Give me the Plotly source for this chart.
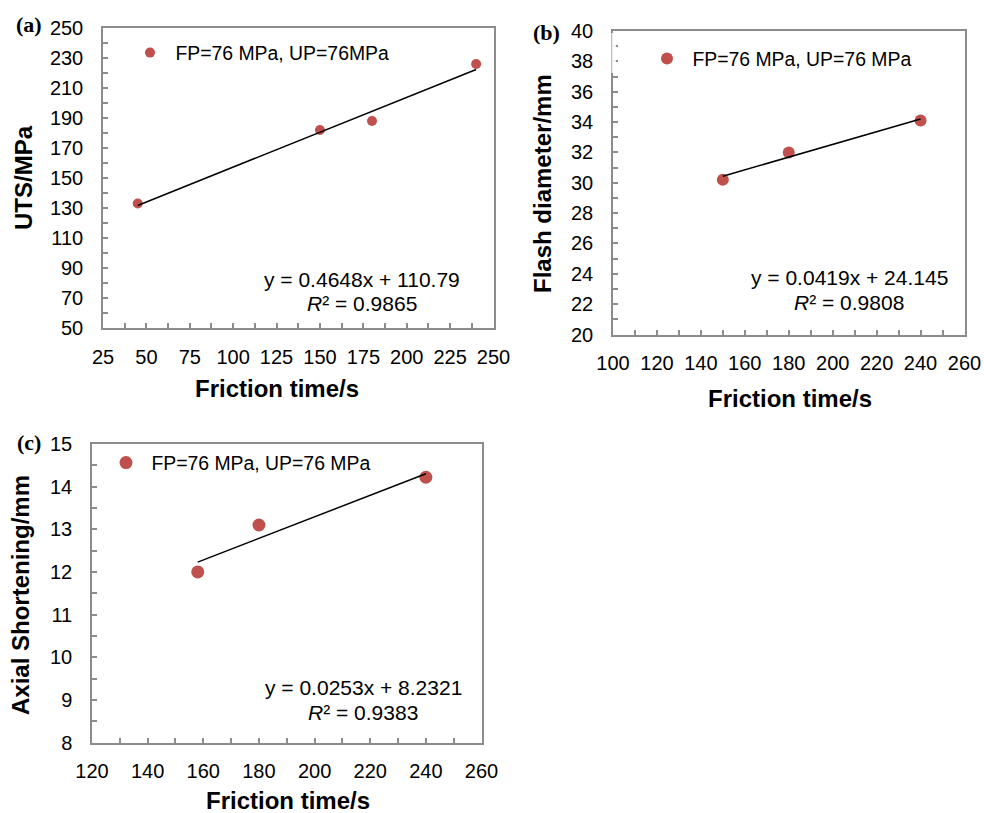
import numpy as np
import plotly.graph_objects as go

W, H = 984, 813

# ---- data ----
a_time = [45, 150, 180, 240]
a_uts = [133, 182, 188, 226]
a_slope, a_icpt = 0.4648, 110.79
a_eq = "y = 0.4648x + 110.79"
a_r2 = "<i>R</i>² = 0.9865"

b_time = [150, 180, 240]
b_flash = [30.2, 32.0, 34.1]
b_slope, b_icpt = 0.0419, 24.145
b_eq = "y = 0.0419x + 24.145"
b_r2 = "<i>R</i>² = 0.9808"

c_time = [158, 180, 240]
c_short = [12.0, 13.1, 14.22]
c_slope, c_icpt = 0.0253, 8.2321
c_eq = "y = 0.0253x + 8.2321"
c_r2 = "<i>R</i>² = 0.9383"

legend_a = "\u00a0FP=76 MPa, UP=76MPa"
legend_bc = "\u00a0FP=76 MPa, UP=76 MPa"
xlabel = "Friction time/s"
ylabels = ["UTS/MPa", "Flash diameter/mm", "Axial Shortening/mm"]

RED = "#C0504D"
AXC = "#8c8c8c"
FONT = "Liberation Sans, Arial, sans-serif"

def px(x):
    return x / W

def py(y):
    return 1 - y / H

fig = go.Figure()

def add_panel(idx, xs, ys, slope, icpt, msize, legname):
    sfx = "" if idx == 1 else str(idx)
    leg = "legend" if idx == 1 else "legend" + str(idx)
    fig.add_trace(go.Scatter(x=xs, y=ys, mode="markers", name=legname,
                             marker=dict(color=RED, size=msize),
                             xaxis="x" + sfx, yaxis="y" + sfx, legend=leg,
                             showlegend=True))
    xl = np.array([min(xs), max(xs)], dtype=float)
    fig.add_trace(go.Scatter(x=xl, y=slope * xl + icpt, mode="lines",
                             line=dict(color="black", width=1.5),
                             xaxis="x" + sfx, yaxis="y" + sfx, showlegend=False,
                             hoverinfo="skip"))

add_panel(1, a_time, a_uts, a_slope, a_icpt, 10, legend_a)
add_panel(2, b_time, b_flash, b_slope, b_icpt, 12, legend_bc)
add_panel(3, c_time, c_short, c_slope, c_icpt, 13, legend_bc)

def xaxis(dom, rng, dtick, minor, anchor):
    return dict(domain=dom, range=rng, tick0=rng[0], dtick=dtick, anchor=anchor,
                automargin=False,
                showgrid=False, zeroline=False, showline=True, linecolor=AXC,
                linewidth=1.5, mirror=True, ticks="inside", ticklen=5,
                tickcolor=AXC, tickwidth=1.5, ticklabelstandoff=10,
                minor=dict(dtick=minor, ticks="inside", ticklen=5, tickcolor=AXC,
                           tickwidth=1.5, showgrid=False),
                tickfont=dict(family=FONT, size=20, color="black"))

def yaxis(dom, rng, dtick, minor, anchor):
    d = xaxis(dom, rng, dtick, minor, anchor)
    d["ticklabelstandoff"] = 14
    return d

# domains in pixels
A = dict(x0=103, x1=493.5, y0=28, y1=328)
B = dict(x0=613, x1=964.5, y0=31, y1=334.5)
C = dict(x0=92, x1=481.5, y0=444, y1=742.5)

def dx(P):
    return [px(P["x0"]), px(P["x1"])]

def dy(P):
    return [py(P["y1"]), py(P["y0"])]

legfont = dict(family=FONT, size=19.4, color="black")

def legend_at(mx, my):
    return dict(x=px(mx - 20), y=py(my), xanchor="left", yanchor="middle",
                bgcolor="rgba(0,0,0,0)", borderwidth=0, font=legfont,
                itemclick=False)

fig.update_layout(
    template="none",
    width=W, height=H, margin=dict(l=0, r=0, t=0, b=0, autoexpand=False),
    paper_bgcolor="white", plot_bgcolor="white",
    xaxis=xaxis(dx(A), [25, 250], 25, 12.5, "y"),
    yaxis=yaxis(dy(A), [50, 250], 20, 10, "x"),
    xaxis2=xaxis(dx(B), [100, 260], 20, 10, "y2"),
    yaxis2=yaxis(dy(B), [20, 40], 2, 1, "x2"),
    xaxis3=xaxis(dx(C), [120, 260], 20, 10, "y3"),
    yaxis3=yaxis(dy(C), [8, 15], 1, 0.5, "x3"),
    legend=legend_at(150, 53),
    legend2=legend_at(667, 59),
    legend3=legend_at(126, 463),
    showlegend=True,
)

anns = []
def text(x, y, s, size=21, bold=False, angle=0, family=FONT):
    anns.append(dict(x=px(x), y=py(y), xref="paper", yref="paper", text=s,
                     showarrow=False, xanchor="center", yanchor="middle",
                     textangle=angle,
                     font=dict(family=family, size=size, color="black",
                               weight="bold" if bold else "normal")))

# equations
text(362, 279, a_eq); text(362, 303, a_r2)
text(849.5, 277, b_eq); text(849, 302, b_r2)
text(363, 687, c_eq); text(363, 712, c_r2)

# axis titles
text(277, 389, xlabel, size=24, bold=True)
text(789.5, 398, xlabel, size=24, bold=True)
text(287.5, 800, xlabel, size=24, bold=True)
text(23, 178, ylabels[0], size=24, bold=True, angle=-90)
text(542, 184, ylabels[1], size=24, bold=True, angle=-90)
text(20, 595, ylabels[2], size=24, bold=True, angle=-90)

# panel labels
SERIF = "Liberation Serif, Times New Roman, serif"
text(29, 24, "(a)", size=22, bold=True, family=SERIF)
text(546, 32, "(b)", size=22, bold=True, family=SERIF)
text(28.5, 443, "(c)", size=22, bold=True, family=SERIF)

fig.update_layout(annotations=anns)

# white legend box overlapping the left axis line in panel (b)
fig.add_shape(type="rect", xref="paper", yref="paper",
              x0=px(611.5), x1=px(616), y0=py(73), y1=py(33),
              fillcolor="rgba(255,255,255,0.85)", line=dict(width=0), layer="above")

fig.write_html("out.html", config={"displayModeBar": False},
               post_script="document.body.style.margin='0';document.body.style.overflow='hidden';")
